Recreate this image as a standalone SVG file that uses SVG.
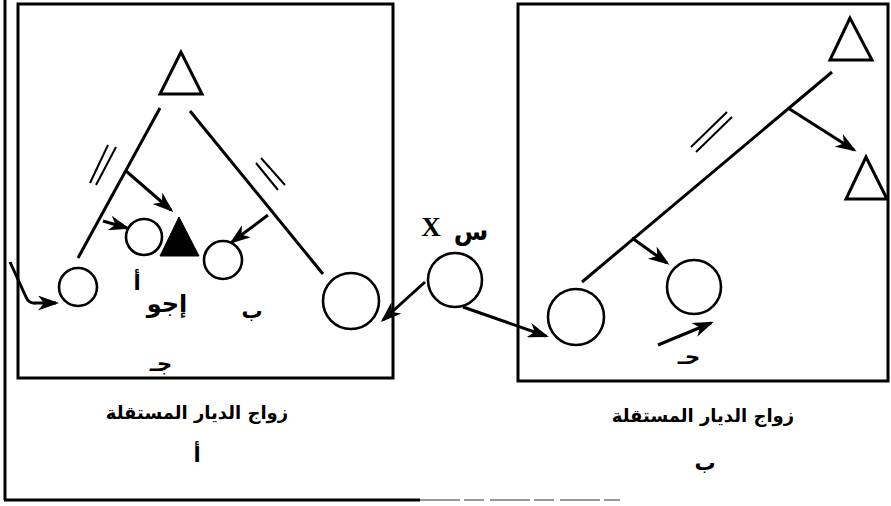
<svg xmlns="http://www.w3.org/2000/svg" width="891" height="506" viewBox="0 0 891 506">
<style>
.ln{stroke:#000;stroke-width:3;fill:none;stroke-linecap:butt}
.th{stroke:#000;stroke-width:2;fill:none}
.box{stroke:#000;stroke-width:3;fill:none}
.c{stroke:#000;stroke-width:2.6;fill:#fff}
.tri{stroke:#000;stroke-width:3;fill:#fff;stroke-linejoin:miter}
.ar{font-family:"DejaVu Sans",sans-serif;font-weight:bold;fill:#000;text-anchor:middle}
.arr{stroke:#000;stroke-width:3;fill:none;marker-end:url(#ah)}
</style>
<defs>
<marker id="ah" viewBox="0 0 14 10" refX="12" refY="5" markerWidth="22" markerHeight="15" markerUnits="userSpaceOnUse" orient="auto"><path d="M0,0 L14,5 L0,10 L4,5 z" fill="#000"/></marker>
</defs>
<rect width="891" height="506" fill="#fff"/>
<g id="outer-frame">
<line x1="5" y1="0" x2="5" y2="500" class="ln"/>
<line x1="4" y1="500" x2="420" y2="500" class="ln"/>
<line x1="420" y1="500" x2="620" y2="500" stroke="#999" stroke-width="2" stroke-dasharray="40 4 20 6"/>
</g>
<g id="panel-a">
<rect x="18" y="4" width="375" height="374" class="box"/>
</g>
<g id="panel-b">
<rect x="518" y="4" width="370" height="377" class="box"/>
</g>
<g id="connectors">
<line x1="160" y1="108" x2="78" y2="258" class="ln"/>
<line x1="190" y1="111" x2="323" y2="274" class="ln"/>
<line x1="90" y1="183" x2="108" y2="145" class="th"/>
<line x1="96" y1="185" x2="116" y2="147" class="th"/>
<line x1="256" y1="163" x2="278" y2="190" class="th"/>
<line x1="261" y1="158" x2="285" y2="185" class="th"/>
<line x1="126" y1="171" x2="171" y2="210" class="arr"/>
<line x1="103" y1="221" x2="127" y2="228" class="arr"/>
<line x1="268" y1="215" x2="232" y2="242" class="arr"/>
<path d="M10,262 L26,297 Q29,304 36,303 L56,303" class="arr"/>
<line x1="425" y1="282" x2="383" y2="320" class="arr"/>
<line x1="463" y1="307" x2="546" y2="336" class="arr"/>
<line x1="832" y1="72" x2="582" y2="282" class="ln"/>
<line x1="691" y1="147" x2="727" y2="112" class="th"/>
<line x1="696" y1="152" x2="732" y2="117" class="th"/>
<line x1="788" y1="108" x2="854" y2="150" class="arr"/>
<line x1="632" y1="238" x2="667" y2="263" class="arr"/>
<line x1="658" y1="345" x2="711" y2="323" class="arr"/>
</g>
<g id="tri-a-top"><polygon points="181,52 160,94 202,94" class="tri"/></g>
<g id="tri-a-filled"><polygon points="179,217 160,256 199,256" fill="#000" stroke="#000" stroke-width="1"/></g>
<g id="circle-a-1"><circle cx="144" cy="237" r="18" class="c"/></g>
<g id="circle-a-2"><circle cx="223" cy="260" r="19" class="c"/></g>
<g id="circle-a-3"><circle cx="78" cy="287" r="19" class="c"/></g>
<g id="circle-a-4"><circle cx="351" cy="301" r="28" class="c"/></g>
<g id="circle-x"><circle cx="455" cy="280" r="27" class="c"/></g>
<g id="tri-b-1"><polygon points="850,18 830,60 872,60" class="tri"/></g>
<g id="tri-b-2"><polygon points="866,157 846,199 887,199" class="tri"/></g>
<g id="circle-b-1"><circle cx="694" cy="287" r="27" class="c"/></g>
<g id="circle-b-2"><circle cx="576" cy="317" r="28" class="c"/></g>
<g id="labels">
<text x="137" y="290" class="ar" font-size="21">أ</text>
<text x="167" y="312" class="ar" font-size="24">إجو</text>
<text x="252" y="318" class="ar" font-size="21">ب</text>
<text x="161" y="371" class="ar" font-size="21">جـ</text>
<text x="689" y="364" class="ar" font-size="21">حـ</text>
<text x="431" y="236" font-family="Liberation Serif,serif" font-size="27" font-weight="bold" text-anchor="middle">X</text>
<text x="471" y="240" class="ar" font-size="25" font-weight="normal">س</text>
<text x="197" y="419" class="ar" font-size="18">زواج الديار المستقلة</text>
<text x="197" y="462" class="ar" font-size="21">أ</text>
<text x="703" y="422" class="ar" font-size="18">زواج الديار المستقلة</text>
<text x="705" y="470" class="ar" font-size="21">ب</text>
</g>
</svg>
